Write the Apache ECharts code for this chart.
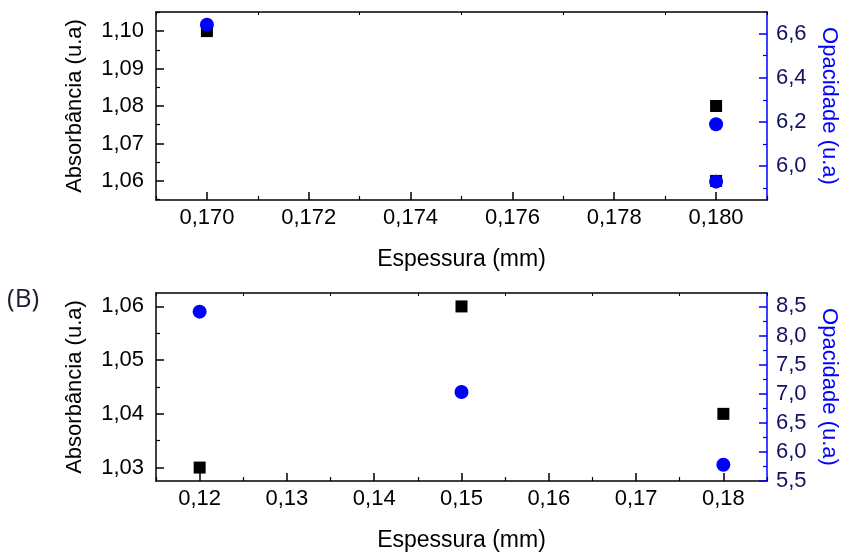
<!DOCTYPE html>
<html>
<head>
<meta charset="utf-8">
<script src="https://cdn.jsdelivr.net/npm/echarts@6/dist/echarts.min.js"></script>
<style>html,body{margin:0;padding:0;background:#fff;}#c{width:841px;height:553px;}</style>
</head>
<body>
<div id="c"></div>
<script>
// ---- Panel A (top) ----
const topThickness = [0.170, 0.180, 0.180];
const topAbsorbance = [1.10, 1.08, 1.06];
const topOpacityThickness = [0.170, 0.180, 0.180];
const topOpacity = [6.64, 6.19, 5.93];
const topXTicks = [0.170, 0.172, 0.174, 0.176, 0.178, 0.180];
const topXMinor = [0.169, 0.171, 0.173, 0.175, 0.177, 0.179, 0.181];
const topAbsTicks = [1.06, 1.07, 1.08, 1.09, 1.10];
const topAbsMinor = [1.055, 1.065, 1.075, 1.085, 1.095, 1.105];
const topOpaTicks = [6.0, 6.2, 6.4, 6.6];
const topOpaMinor = [5.9, 6.1, 6.3, 6.5];

// ---- Panel B (bottom) ----
const botThickness = [0.12, 0.15, 0.18];
const botAbsorbance = [1.03, 1.06, 1.04];
const botOpacityThickness = [0.12, 0.15, 0.18];
const botOpacity = [8.41, 7.03, 5.78];
const botXTicks = [0.12, 0.13, 0.14, 0.15, 0.16, 0.17, 0.18];
const botXMinor = [0.115, 0.125, 0.135, 0.145, 0.155, 0.165, 0.175, 0.185];
const botAbsTicks = [1.03, 1.04, 1.05, 1.06];
const botAbsMinor = [1.035, 1.045, 1.055];
const botOpaTicks = [5.5, 6.0, 6.5, 7.0, 7.5, 8.0, 8.5];
const botOpaMinor = [5.75, 6.25, 6.75, 7.25, 7.75, 8.25];

const FONT = "'Liberation Sans', Arial, sans-serif";
const BLACK = '#000';
const BLUE = '#0000ff';
const NAVY = '#121262';
const fmt = d => v => v.toFixed(d).replace('.', ',');
const pairs = (xs, ys) => xs.map((x, i) => [x, ys[i]]);

function xMain(grid, min, max, ticks, dec) {
  return {
    type: 'value', gridIndex: grid, position: 'bottom', min, max,
    splitLine: {show: false},
    axisLine: {show: true, onZero: false, lineStyle: {color: BLACK, width: 1.5}},
    axisTick: {show: true, inside: true, length: 8, customValues: ticks, lineStyle: {color: BLACK, width: 1.5}},
    axisLabel: {show: true, customValues: ticks, formatter: fmt(dec), margin: 7, color: BLACK, fontSize: 22, fontFamily: FONT},
    name: 'Espessura (mm)', nameLocation: 'middle', nameGap: 48,
    nameTextStyle: {color: BLACK, fontSize: 23, fontFamily: FONT}
  };
}
function xMinor(grid, min, max, ticks) {
  return {
    type: 'value', gridIndex: grid, position: 'bottom', min, max,
    splitLine: {show: false}, axisLine: {show: false, onZero: false},
    axisTick: {show: true, inside: true, length: 4, customValues: ticks, lineStyle: {color: BLACK, width: 1.2}},
    axisLabel: {show: false}
  };
}
function xTop(grid, min, max, ticks) {
  return {
    type: 'value', gridIndex: grid, position: 'top', min, max,
    splitLine: {show: false},
    axisLine: {show: true, onZero: false, lineStyle: {color: BLACK, width: 1.5}},
    axisTick: {show: true, inside: true, length: 3, customValues: ticks, lineStyle: {color: BLACK, width: 1}},
    axisLabel: {show: false}
  };
}
function yLeft(grid, min, max, ticks, dec) {
  return {
    type: 'value', gridIndex: grid, position: 'left', min, max,
    splitLine: {show: false},
    axisLine: {show: true, onZero: false, lineStyle: {color: BLACK, width: 1.5}},
    axisTick: {show: true, inside: true, length: 8, customValues: ticks, lineStyle: {color: BLACK, width: 1.5}},
    axisLabel: {show: true, customValues: ticks, formatter: fmt(dec), margin: 12, color: BLACK, fontSize: 22, fontFamily: FONT},
    name: 'Absorbância (u.a)', nameLocation: 'middle', nameGap: 70, nameRotate: 90,
    nameTextStyle: {color: BLACK, fontSize: 22, fontFamily: FONT}
  };
}
function yRight(grid, min, max, ticks, dec) {
  return {
    type: 'value', gridIndex: grid, position: 'right', min, max,
    splitLine: {show: false},
    axisLine: {show: true, onZero: false, lineStyle: {color: BLUE, width: 1.5}},
    axisTick: {show: true, inside: true, length: 8, customValues: ticks, lineStyle: {color: BLUE, width: 1.5}},
    axisLabel: {show: true, customValues: ticks, formatter: fmt(dec), margin: 9, color: NAVY, fontSize: 22, fontFamily: FONT},
    name: 'Opacidade (u.a)', nameLocation: 'middle', nameGap: 51, nameRotate: -90,
    nameTextStyle: {color: BLUE, fontSize: 22, fontFamily: FONT}
  };
}
function yMinor(grid, pos, min, max, ticks, color) {
  return {
    type: 'value', gridIndex: grid, position: pos, min, max,
    splitLine: {show: false}, axisLine: {show: false, onZero: false},
    axisTick: {show: true, inside: true, length: 4, customValues: ticks, lineStyle: {color: color, width: 1.2}},
    axisLabel: {show: false}
  };
}

const option = {
  animation: false,
  backgroundColor: '#fff',
  textStyle: {fontFamily: FONT},
  graphic: [{
    type: 'text', left: 7, top: 287,
    style: {text: '(B)', fill: '#1c1c30', fontSize: 26, fontFamily: "'Open Sans', 'Noto Sans', sans-serif"}
  }],
  grid: [
    {left: 156, top: 12, width: 611, height: 188, containLabel: false, outerBoundsMode: 'none'},
    {left: 156, top: 293, width: 611, height: 188, containLabel: false, outerBoundsMode: 'none'}
  ],
  xAxis: [
    xMain(0, 0.169, 0.181, topXTicks, 3),
    xMinor(0, 0.169, 0.181, topXMinor),
    xTop(0, 0.169, 0.181, topXMinor),
    xMain(1, 0.115, 0.185, botXTicks, 2),
    xMinor(1, 0.115, 0.185, botXMinor),
    xTop(1, 0.115, 0.185, botXMinor)
  ],
  yAxis: [
    yLeft(0, 1.0549, 1.1051, topAbsTicks, 2),
    yMinor(0, 'left', 1.0549, 1.1051, topAbsMinor, BLACK),
    yRight(0, 5.847, 6.698, topOpaTicks, 1),
    yMinor(0, 'right', 5.847, 6.698, topOpaMinor, BLUE),
    yLeft(1, 1.0275, 1.0625, botAbsTicks, 2),
    yMinor(1, 'left', 1.0275, 1.0625, botAbsMinor, BLACK),
    yRight(1, 5.5, 8.73, botOpaTicks, 1),
    yMinor(1, 'right', 5.5, 8.73, botOpaMinor, BLUE)
  ],
  series: [
    {type: 'scatter', xAxisIndex: 0, yAxisIndex: 0, symbol: 'rect', symbolSize: 12,
     itemStyle: {color: BLACK, opacity: 1}, data: pairs(topThickness, topAbsorbance)},
    {type: 'scatter', xAxisIndex: 0, yAxisIndex: 2, symbol: 'circle', symbolSize: 14,
     itemStyle: {color: BLUE, opacity: 1}, data: pairs(topOpacityThickness, topOpacity)},
    {type: 'scatter', xAxisIndex: 3, yAxisIndex: 4, symbol: 'rect', symbolSize: 12,
     itemStyle: {color: BLACK, opacity: 1}, data: pairs(botThickness, botAbsorbance)},
    {type: 'scatter', xAxisIndex: 3, yAxisIndex: 6, symbol: 'circle', symbolSize: 14,
     itemStyle: {color: BLUE, opacity: 1}, data: pairs(botOpacityThickness, botOpacity)}
  ]
};
const chart = echarts.init(document.getElementById('c'), null, {renderer: 'canvas'});
chart.setOption(option);
</script>
</body>
</html>
